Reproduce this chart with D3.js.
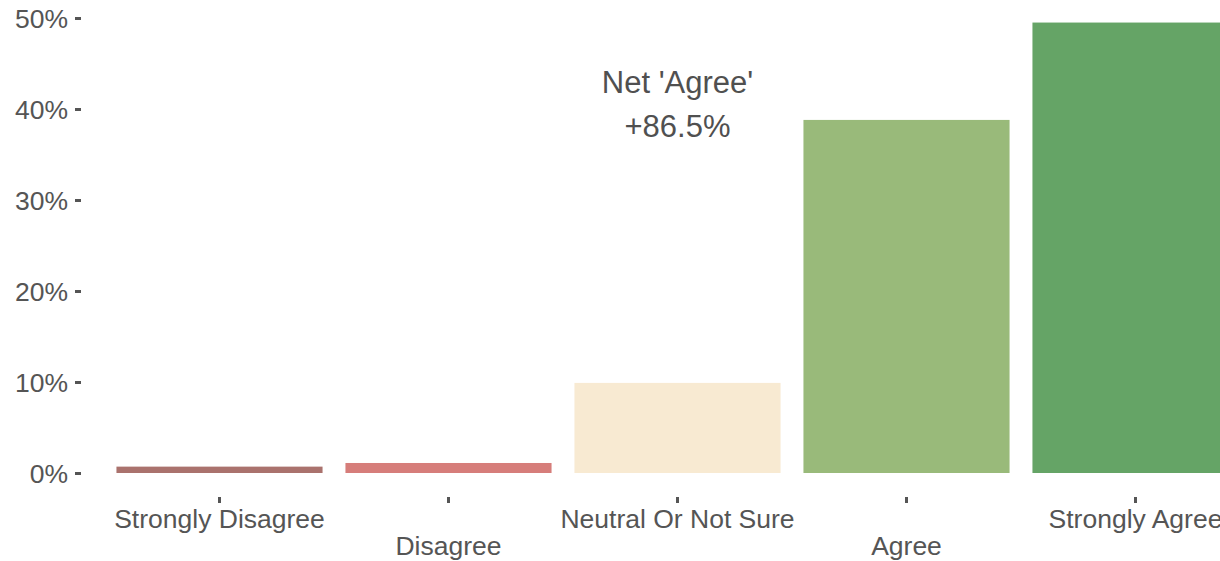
<!DOCTYPE html>
<html>
<head>
<meta charset="utf-8">
<script src="https://cdn.jsdelivr.net/npm/d3@7"></script>
<style>
  body { margin:0; background:#fff; overflow:hidden; }
  text { font-family: "Liberation Sans", Arial, sans-serif; fill:#555; }
</style>
</head>
<body>
<script>
// data
var categories = ["Strongly Disagree","Disagree","Neutral Or Not Sure","Agree","Strongly Agree"];
var shares = [0.7, 1.1, 9.9, 38.8, 49.5];
var barColors = ["#aa726d","#d67d7a","#f8ead2","#99ba7a","#65a466"];
var yTicks = [0,10,20,30,40,50];
var netLabel = ["Net 'Agree'", "+86.5%"];

var svgWidth = 1220, svgHeight = 561;

var svg = d3.select("body").append("svg")
  .attr("width", svgWidth)
  .attr("height", svgHeight);

var x = d3.scaleBand()
  .domain(categories)
  .range([105, 1250])
  .paddingInner(0.1)
  .paddingOuter(0.05);

var y = d3.scaleLinear()
  .domain([0, 50])
  .range([473, 18]);

// bars
svg.selectAll("rect.bar")
  .data(shares)
  .enter().append("rect")
  .attr("class","bar")
  .attr("x", function(d,i){ return x(categories[i]); })
  .attr("y", function(d){ return y(d); })
  .attr("width", x.bandwidth())
  .attr("height", function(d){ return y(0) - y(d); })
  .attr("fill", function(d,i){ return barColors[i]; });

// y axis: ticks only, no line
var yAxis = svg.append("g")
  .attr("transform","translate(81,0)")
  .call(d3.axisLeft(y).tickValues(yTicks).tickSize(6).tickPadding(7)
        .tickFormat(function(d){ return d + "%"; }));
yAxis.select(".domain").remove();
yAxis.selectAll(".tick line").attr("stroke","#555").attr("stroke-width",3);
yAxis.selectAll(".tick text")
  .attr("font-size", 26.5)
  .attr("fill","#555")
  .attr("dy","0.35em");

// x axis: small ticks, staggered labels
var xAxis = svg.append("g")
  .attr("transform","translate(0,497)")
  .call(d3.axisBottom(x).tickSize(6).tickPadding(0));
xAxis.select(".domain").remove();
xAxis.selectAll(".tick line").attr("stroke","#555").attr("stroke-width",3);
xAxis.selectAll(".tick text")
  .attr("font-size", 26.5)
  .attr("fill","#555")
  .attr("dy", null)
  .attr("y", function(d,i){ return i % 2 == 0 ? 31 : 58; });

// net agree annotation
var mid = x(categories[2]) + x.bandwidth()/2;
svg.selectAll("text.net")
  .data(netLabel)
  .enter().append("text")
  .attr("class","net")
  .attr("x", mid)
  .attr("y", function(d,i){ return 93 + i*44; })
  .attr("text-anchor","middle")
  .attr("font-size", 31)
  .style("fill","#505050")
  .text(function(d){ return d; });
</script>
</body>
</html>
